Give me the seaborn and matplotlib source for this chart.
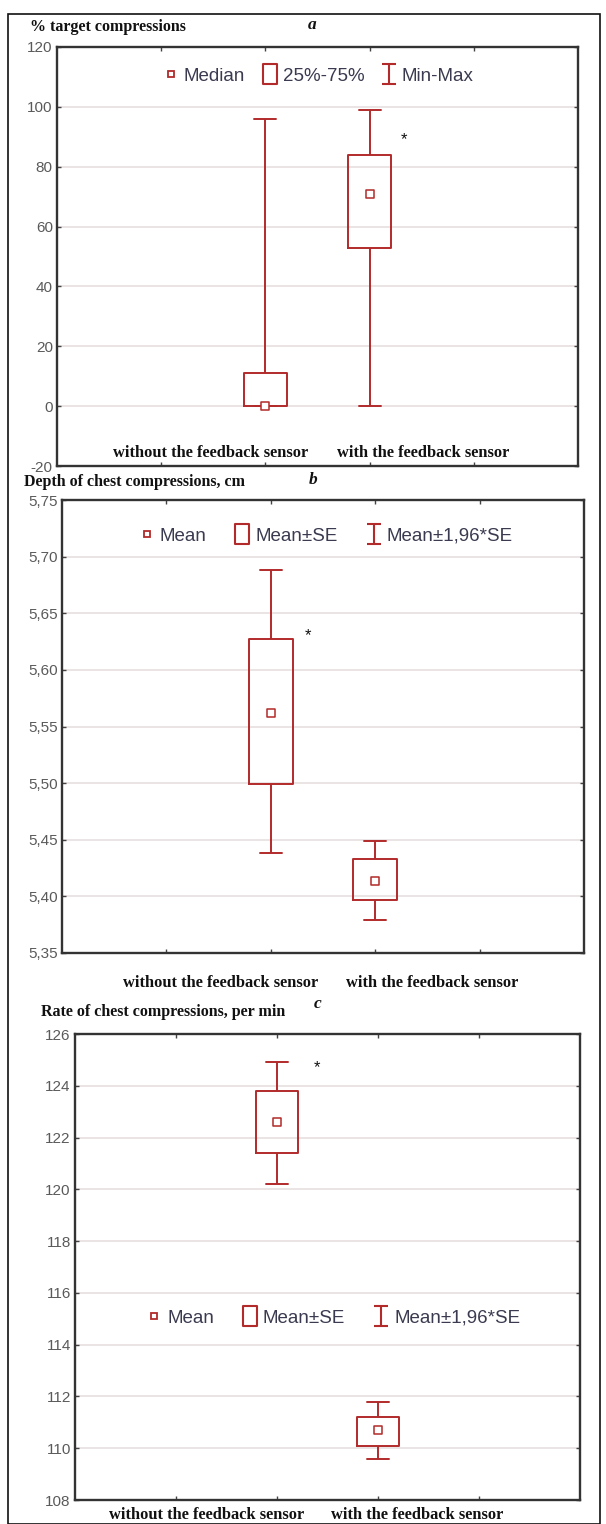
import pandas as pd
import numpy as np
import matplotlib
matplotlib.use("Agg")
import matplotlib.pyplot as plt
import seaborn as sns
from matplotlib.lines import Line2D
from matplotlib.path import Path
from matplotlib.patches import Rectangle
from matplotlib.ticker import FuncFormatter

# --- data ---
groups = ["without the feedback sensor", "with the feedback sensor"]

# panel a : % target compressions (min, q25, median, q75, max)
a_min = [0, 0]
a_q25 = [0, 53]
a_med = [0, 71]
a_q75 = [11, 84]
a_max = [96, 99]

# panel b : depth of chest compressions, cm
b_lo = [5.438, 5.379]
b_se_lo = [5.499, 5.397]
b_mean = [5.562, 5.414]
b_se_hi = [5.627, 5.433]
b_hi = [5.688, 5.449]

# panel c : rate of chest compressions, per min
c_lo = [120.2, 109.6]
c_se_lo = [121.4, 110.1]
c_mean = [122.6, 110.7]
c_se_hi = [123.8, 111.2]
c_hi = [124.9, 111.8]

RED = "#b22a2a"
W, H = 606, 1524

sns.set_theme(style="white")
plt.rcParams["font.family"] = ["Liberation Sans", "DejaVu Sans"]

fig = plt.figure(figsize=(W / 100, H / 100), dpi=100)


def box(l, t, r, b):
    return [l / W, 1 - b / H, (r - l) / W, (b - t) / H]


def make_df(cols):
    rows = []
    for i, g in enumerate(groups):
        for c in cols:
            rows.append({"group": g, "value": c[i]})
    return pd.DataFrame(rows)


# legend marker shapes: tall box and I-beam
rect = Path([(-0.37, -0.5), (0.37, -0.5), (0.37, 0.5), (-0.37, 0.5), (-0.37, -0.5)],
            [Path.MOVETO, Path.LINETO, Path.LINETO, Path.LINETO, Path.CLOSEPOLY])
ibeam = Path([(-0.35, 0.5), (0.35, 0.5), (0, 0.5), (0, -0.5), (-0.35, -0.5), (0.35, -0.5)],
             [Path.MOVETO, Path.LINETO, Path.MOVETO, Path.LINETO, Path.MOVETO, Path.LINETO])


def draw_panel(ax, cols, centre, ylim, yticks, fmt, labels, legend_pos, colsp):
    df = make_df(cols)
    sns.boxplot(data=df, x="group", y="value", order=groups, whis=(0, 100), width=0.42,
                fill=False, color=RED, linewidth=1.4, showfliers=False,
                medianprops={"linewidth": 0}, ax=ax)
    sns.scatterplot(x=groups, y=centre, marker="s", s=30, color="white",
                    edgecolor=RED, linewidth=1.1, ax=ax, zorder=5)
    ax.set_xlim(-2, 3)
    ax.set_ylim(*ylim)
    ax.set_yticks(yticks)
    ax.yaxis.set_major_formatter(FuncFormatter(fmt))
    ax.set_xticks([-1, 0, 1, 2])
    ax.set_xticklabels([])
    ax.set_xlabel("")
    ax.set_ylabel("")
    ax.grid(axis="y", color="#e6dcdc", linewidth=1.1)
    ax.set_axisbelow(True)
    ax.tick_params(direction="in", length=3, width=1, top=True, right=True,
                   bottom=True, left=True, colors="#444", labelcolor="#5a5a5a",
                   labelsize=11, pad=3)
    for s in ax.spines.values():
        s.set_color("#333")
        s.set_linewidth(1.7)
    handles = [
        Line2D([], [], ls="none", marker="s", markersize=5, mfc="white", mec=RED, mew=1.3),
        Line2D([], [], ls="none", marker=rect, markersize=14.5, mfc="none", mec=RED, mew=1.5),
        Line2D([], [], ls="none", marker=ibeam, markersize=14.5, mfc="none", mec=RED, mew=1.5),
    ]
    ax.legend(handles, labels, ncol=3, loc="center", bbox_to_anchor=legend_pos,
              frameon=False, fontsize=13.5, handletextpad=0.2, columnspacing=colsp,
              handlelength=1.0, labelcolor="#3a3a50")


serif_b = dict(family=["Liberation Serif", "DejaVu Serif"], weight="bold", color="#111")

# --- panel a ---
ax_a = fig.add_axes(box(57, 47, 578, 466))
draw_panel(ax_a, [a_min, a_q25, a_med, a_q75, a_max], a_med, (-20, 120),
           np.arange(-20, 121, 20), lambda v, p: f"{v:.0f}",
           ["Median", "25%-75%", "Min-Max"], (0.50, 0.93), 0.8)
ax_a.text(1.33, 89, "*", fontsize=12, color="#111", ha="center", va="center")
for xc, g in zip([211, 423], groups):
    ax_a.text((xc - 57) / 521, 0.03, g, transform=ax_a.transAxes, ha="center",
              va="center", fontsize=11.8, **serif_b)

# --- panel b ---
ax_b = fig.add_axes(box(62, 500, 584, 953))
draw_panel(ax_b, [b_lo, b_se_lo, b_mean, b_se_hi, b_hi], b_mean, (5.35, 5.75),
           np.arange(5.35, 5.751, 0.05), lambda v, p: f"{v:.2f}".replace(".", ","),
           ["Mean", "Mean±SE", "Mean±1,96*SE"], (0.504, 0.92), 1.4)
ax_b.text(0.36, 5.630, "*", fontsize=12, color="#111", ha="center", va="center")
for xc, g in zip([221, 432], groups):
    fig.text(xc / W, 1 - 983 / H, g, ha="center", va="center", fontsize=11.8, **serif_b)

# --- panel c ---
ax_c = fig.add_axes(box(75, 1034, 580, 1500))
draw_panel(ax_c, [c_lo, c_se_lo, c_mean, c_se_hi, c_hi], c_mean, (108, 126),
           np.arange(108, 127, 2), lambda v, p: f"{v:.0f}",
           ["Mean", "Mean±SE", "Mean±1,96*SE"], (0.51, 0.39), 1.4)
ax_c.text(0.4, 124.7, "*", fontsize=12, color="#111", ha="center", va="center")
for xc, g in zip([207, 417], groups):
    fig.text(xc / W, 1 - 1515 / H, g, ha="center", va="center", fontsize=11.8, **serif_b)

# --- titles ---
fig.text(30 / W, 1 - 27 / H, "% target compressions", ha="left", va="center", fontsize=11.5, **serif_b)
fig.text(312 / W, 1 - 25 / H, "a", ha="center", va="center", fontsize=12.5, style="italic", **serif_b)
fig.text(24 / W, 1 - 482 / H, "Depth of chest compressions, cm", ha="left", va="center", fontsize=11.5, **serif_b)
fig.text(313 / W, 1 - 480 / H, "b", ha="center", va="center", fontsize=12.5, style="italic", **serif_b)
fig.text(41 / W, 1 - 1012 / H, "Rate of chest compressions, per min", ha="left", va="center", fontsize=11.5, **serif_b)
fig.text(318 / W, 1 - 1004 / H, "c", ha="center", va="center", fontsize=12.5, style="italic", **serif_b)

# outer frame
fig.patches.append(Rectangle((8 / W, 0), 592 / W, 1 - 14 / H, transform=fig.transFigure,
                             fill=False, edgecolor="#111", linewidth=1.2))

fig.savefig("out.png", dpi=100)
